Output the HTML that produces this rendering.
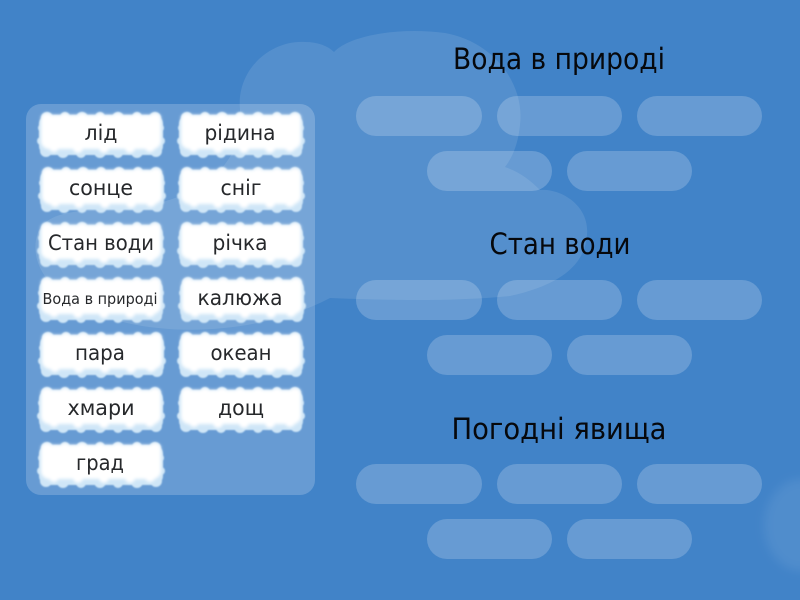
<!DOCTYPE html>
<html><head><meta charset="utf-8">
<style>
html,body{margin:0;padding:0;width:800px;height:600px;overflow:hidden;background:#4183c8}
svg{position:absolute;left:0;top:0}
text{font-family:"DejaVu Sans","Liberation Sans",sans-serif;text-anchor:middle}
.t{font-size:21px;fill:#26282b}
.h{font-size:29px;fill:#06080c}
.s{fill:#fff;fill-opacity:.2}
</style></head>
<body>
<svg width="800" height="600" viewBox="0 0 800 600">
<defs>
<filter id="b1" x="-5%" y="-10%" width="110%" height="120%"><feGaussianBlur stdDeviation=".7"/></filter>
<filter id="b3" x="-10%" y="-30%" width="120%" height="160%"><feGaussianBlur stdDeviation="1.6"/></filter>
<filter id="b2" x="-30%" y="-30%" width="160%" height="160%"><feGaussianBlur stdDeviation="5"/></filter>
<symbol id="c" viewBox="0 0 126 46" width="126" height="46" overflow="visible">
<g fill="#cfe6f7" filter="url(#b1)">
<rect x="1" y="3" width="124" height="40" rx="9"/>
<circle cx="9" cy="6" r="6"/><circle cx="27" cy="5" r="5"/><circle cx="44" cy="6" r="6"/><circle cx="62" cy="5" r="5"/><circle cx="80" cy="6" r="6"/><circle cx="99" cy="5" r="5"/><circle cx="117" cy="6" r="6"/>
<circle cx="8" cy="39" r="6"/><circle cx="25" cy="40" r="6"/><circle cx="43" cy="41" r="5"/><circle cx="62" cy="40" r="6"/><circle cx="80" cy="41" r="5"/><circle cx="99" cy="40" r="6"/><circle cx="118" cy="39" r="6"/>
<circle cx="4" cy="16" r="4"/><circle cx="3" cy="29" r="4"/><circle cx="122" cy="16" r="4"/><circle cx="123" cy="29" r="4"/>
</g>
<g fill="#fff" filter="url(#b3)">
<rect x="3" y="3" width="120" height="34" rx="8"/>
<circle cx="9" cy="7" r="6"/><circle cx="27" cy="6" r="5"/><circle cx="44" cy="7" r="6"/><circle cx="62" cy="6" r="5"/><circle cx="80" cy="7" r="6"/><circle cx="99" cy="6" r="5"/><circle cx="117" cy="7" r="6"/>
<circle cx="16" cy="35" r="5"/><circle cx="40" cy="36" r="5"/><circle cx="66" cy="36" r="5"/><circle cx="92" cy="36" r="5"/><circle cx="112" cy="35" r="5"/>
</g>
</symbol>
</defs>

<!-- background clouds -->
<path fill="#fff" fill-opacity=".1" d="M240 110C236 70 270 40 305 42C318 42 328 46 334 52C350 35 400 27 445 33C495 42 525 85 520 125C518 145 512 158 505 167C520 172 530 180 540 190C560 188 590 205 587 235C585 265 560 285 510 296C450 302 380 300 330 298C250 340 130 340 70 300C40 280 30 255 38 232C50 205 100 212 150 205C200 195 245 165 240 110Z"/>
<ellipse cx="802" cy="525" rx="38" ry="46" fill="#fff" fill-opacity=".08" filter="url(#b2)"/>

<!-- tray -->
<rect x="26" y="104" width="289" height="391" rx="15" fill="#fff" fill-opacity=".2"/>

<!-- tiles -->
<use href="#c" x="38" y="112"/><text class="t" x="101" y="140" textLength="33" lengthAdjust="spacingAndGlyphs">лід</text>
<use href="#c" x="178" y="112"/><text class="t" x="240" y="140" textLength="71" lengthAdjust="spacingAndGlyphs">рідина</text>
<use href="#c" x="39" y="167"/><text class="t" x="101" y="195" textLength="64" lengthAdjust="spacingAndGlyphs">сонце</text>
<use href="#c" x="178" y="167"/><text class="t" x="241" y="195" textLength="41" lengthAdjust="spacingAndGlyphs">сніг</text>
<use href="#c" x="38" y="222"/><text class="t" x="101" y="250" textLength="106" lengthAdjust="spacingAndGlyphs">Стан води</text>
<use href="#c" x="178" y="222"/><text class="t" x="240" y="250" textLength="55" lengthAdjust="spacingAndGlyphs">річка</text>
<use href="#c" x="38" y="277"/><text class="t" x="100" y="304" style="font-size:15px" textLength="115" lengthAdjust="spacingAndGlyphs">Вода в природі</text>
<use href="#c" x="179" y="277"/><text class="t" x="240" y="305" textLength="85" lengthAdjust="spacingAndGlyphs">калюжа</text>
<use href="#c" x="39" y="332"/><text class="t" x="100" y="360" textLength="50" lengthAdjust="spacingAndGlyphs">пара</text>
<use href="#c" x="178" y="332"/><text class="t" x="241" y="360" textLength="61" lengthAdjust="spacingAndGlyphs">океан</text>
<use href="#c" x="38" y="387"/><text class="t" x="101" y="415" textLength="67" lengthAdjust="spacingAndGlyphs">хмари</text>
<use href="#c" x="178" y="387"/><text class="t" x="241" y="415" textLength="46" lengthAdjust="spacingAndGlyphs">дощ</text>
<use href="#c" x="38" y="442"/><text class="t" x="100" y="470" textLength="48" lengthAdjust="spacingAndGlyphs">град</text>

<!-- headings -->
<text class="h" x="559" y="69" textLength="212" lengthAdjust="spacingAndGlyphs">Вода в природі</text>
<text class="h" x="560" y="254" textLength="141" lengthAdjust="spacingAndGlyphs">Стан води</text>
<text class="h" x="559" y="439" textLength="215" lengthAdjust="spacingAndGlyphs">Погодні явища</text>

<!-- slots -->
<g class="s">
<rect x="356" y="96" width="126" height="40" rx="20"/><rect x="497" y="96" width="125" height="40" rx="20"/><rect x="637" y="96" width="125" height="40" rx="20"/>
<rect x="427" y="151" width="125" height="40" rx="20"/><rect x="567" y="151" width="125" height="40" rx="20"/>
<rect x="356" y="280" width="126" height="40" rx="20"/><rect x="497" y="280" width="125" height="40" rx="20"/><rect x="637" y="280" width="125" height="40" rx="20"/>
<rect x="427" y="335" width="125" height="40" rx="20"/><rect x="567" y="335" width="125" height="40" rx="20"/>
<rect x="356" y="464" width="126" height="40" rx="20"/><rect x="497" y="464" width="125" height="40" rx="20"/><rect x="637" y="464" width="125" height="40" rx="20"/>
<rect x="427" y="519" width="125" height="40" rx="20"/><rect x="567" y="519" width="125" height="40" rx="20"/>
</g>
</svg>
</body></html>
